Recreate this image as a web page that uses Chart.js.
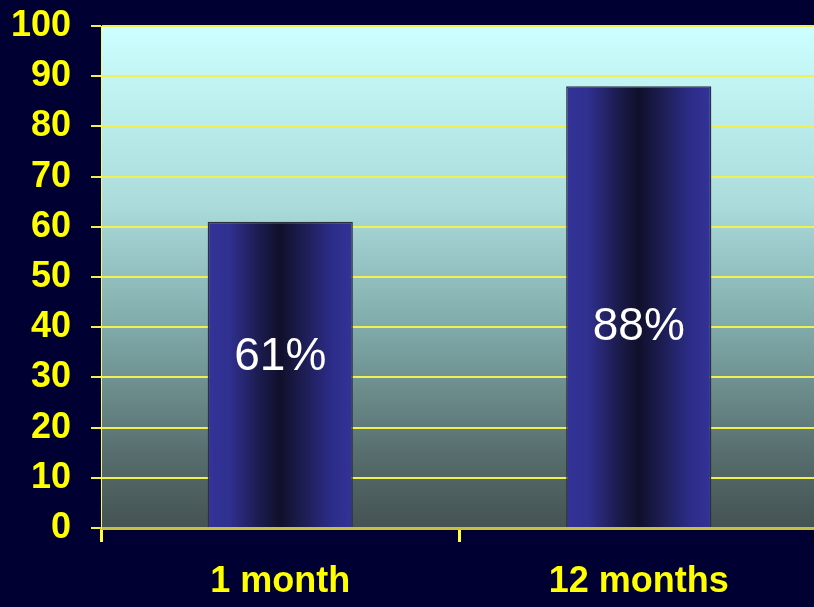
<!DOCTYPE html>
<html>
<head>
<meta charset="utf-8">
<script src="https://cdn.jsdelivr.net/npm/chart.js@4.4.1/dist/chart.umd.min.js"></script>
<style>
    html, body { margin: 0; padding: 0; background: #000033; overflow: hidden; }
    #wrap { width: 818px; height: 607px; }
</style>
</head>
<body>
<div id="wrap"><canvas id="resultChart"></canvas></div>
<script>
const categories = ["1 month", "12 months"];
const percentages = [61, 88];
const yTicks = [0, 10, 20, 30, 40, 50, 60, 70, 80, 90, 100];

// value height (in axis units) where each percent label sits inside its bar
const labelLevels = [34, 40];

// cyan-to-slate fill behind the bars
const plotBackground = {
    id: "plotBackground",
    beforeDraw(chart) {
        const { ctx, chartArea: a } = chart;
        const g = ctx.createLinearGradient(0, a.top, 0, a.bottom);
        g.addColorStop(0, "#ccffff");
        g.addColorStop(0.35, "#acdcdc");
        g.addColorStop(0.6, "#80aaaa");
        g.addColorStop(0.85, "#586e6e");
        g.addColorStop(1, "#445252");
        ctx.save();
        ctx.fillStyle = g;
        ctx.fillRect(a.left, a.top, a.right - a.left, a.bottom - a.top);
        ctx.restore();
    }
};

// white "61%" style labels inside the bars
const barLabels = {
    id: "barLabels",
    afterDatasetsDraw(chart) {
        const { ctx } = chart;
        const meta = chart.getDatasetMeta(0);
        const y = chart.scales.y;
        ctx.save();
        ctx.fillStyle = "#ffffff";
        ctx.font = "46px 'Liberation Sans', Arial, sans-serif";
        ctx.textAlign = "center";
        ctx.textBaseline = "middle";
        meta.data.forEach((bar, i) => {
            ctx.fillText(percentages[i] + "%", bar.x, y.getPixelForValue(labelLevels[i]));
        });
        ctx.restore();
    }
};

const barPct = 0.405;

function barGradient(context) {
    const chart = context.chart;
    const area = chart.chartArea;
    if (!area) return "#333399";
    const cx = chart.scales.x.getPixelForValue(context.dataIndex);
    const half = (area.right - area.left) / categories.length * barPct / 2;
    const g = chart.ctx.createLinearGradient(cx - half, 0, cx + half, 0);
    g.addColorStop(0, "#333399");
    g.addColorStop(0.15, "#303090");
    g.addColorStop(0.35, "#1c1c50");
    g.addColorStop(0.5, "#10102a");
    g.addColorStop(0.65, "#1c1c50");
    g.addColorStop(0.85, "#2c2c88");
    g.addColorStop(1, "#333399");
    return g;
}

const tickFont = { family: "'Liberation Sans', Arial, sans-serif", size: 36, weight: "bold" };

new Chart(document.getElementById("resultChart"), {
    type: "bar",
    data: {
        labels: categories,
        datasets: [{
            data: percentages,
            backgroundColor: barGradient,
            borderColor: "#2a3040",
            borderWidth: 1.5,
            borderSkipped: "bottom",
            barPercentage: barPct,
            categoryPercentage: 1
        }]
    },
    options: {
        responsive: true,
        maintainAspectRatio: false,
        animation: false,
        layout: { padding: { top: 26, left: 0, right: 0, bottom: 0 } },
        plugins: {
            legend: { display: false },
            tooltip: { enabled: false }
        },
        scales: {
            x: {
                afterFit: s => { s.height = 79; s.paddingLeft = 0; s.paddingRight = 0; },
                grid: {
                    offset: true,
                    drawOnChartArea: false,
                    color: "#ffff33",
                    lineWidth: 3,
                    tickLength: 14
                },
                border: { color: "#c8c038", width: 3 },
                ticks: { color: "#ffff00", font: tickFont, padding: 18 }
            },
            y: {
                min: 0,
                max: 100,
                afterFit: s => { s.width = 101; s.paddingTop = 0; s.paddingBottom = 0; },
                afterBuildTicks: s => { s.ticks = yTicks.map(v => ({ value: v })); },
                grid: {
                    color: "#f0f050",
                    lineWidth: 2,
                    tickLength: 10
                },
                border: { color: "#ffff33", width: 1 },
                ticks: { color: "#ffff00", font: tickFont, padding: 20 }
            }
        }
    },
    plugins: [plotBackground, barLabels]
});
</script>
</body>
</html>
